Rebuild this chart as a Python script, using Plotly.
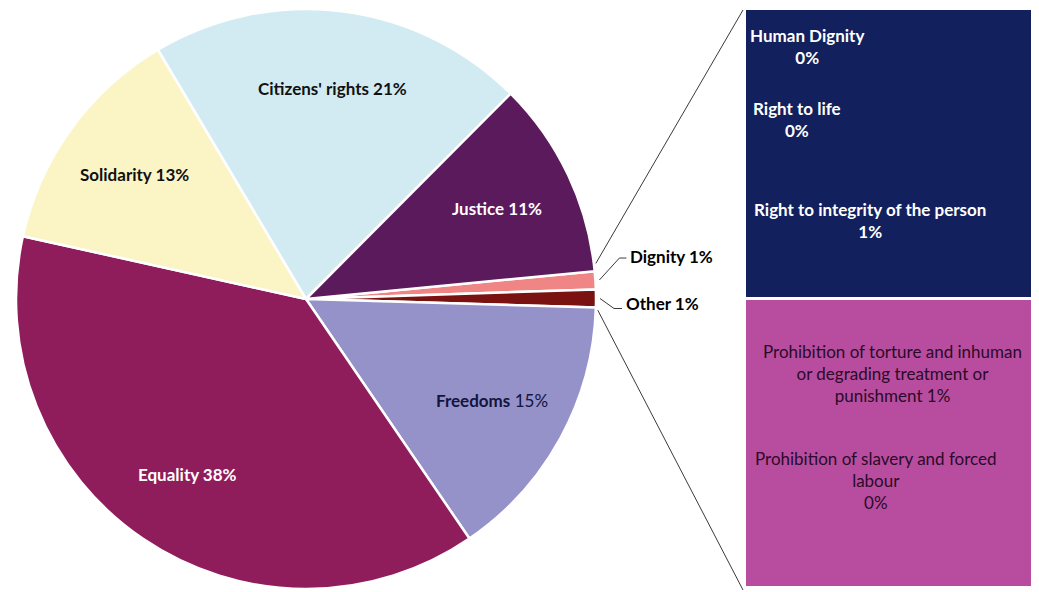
import math
import plotly.graph_objects as go

# ---- data ----
categories = ["Dignity", "Other", "Freedoms", "Equality", "Solidarity", "Citizens' rights", "Justice"]
values = [1, 1, 15, 38, 13, 21, 11]
slice_colors = ["#F08585", "#7A1212", "#9591C9", "#8F1C5B", "#FBF5C6", "#D2EBF3", "#5A1A5C"]
text_colors = ["#000000", "#000000", "#14143C", "#FFFFFF", "#111111", "#111111", "#FFFFFF"]

dignity_items = ["Prohibition of slavery and forced<br>labour",
                 "Prohibition of torture and inhuman<br>or degrading treatment or<br>punishment",
                 "Right to integrity of the person",
                 "Right to life",
                 "Human Dignity"]
dignity_values = [0, 1, 1, 0, 0]
dignity_colors = ["#B84D9F", "#B84D9F", "#13205E", "#13205E", "#13205E"]

# page body has an 8px margin: work in screen pixels and shift
OFF = 8
W, H = 1039 - OFF, 592 - OFF
FONT = "Lato"
FS = 17
cx_px, cy_px, R = 306, 299, 290
rotation = 84.5


def to_paper(px, py):
    return (px - OFF) / W, 1 - (py - OFF) / H


fig = go.Figure()
fig.add_trace(go.Pie(
    labels=categories, values=values, sort=False, direction="clockwise",
    rotation=rotation, textinfo="none",
    marker=dict(colors=slice_colors, line=dict(color="white", width=2.5)),
    domain=dict(x=[(cx_px - R - OFF) / W, (cx_px + R - OFF) / W],
                y=[max(0, 1 - (cy_px + R - OFF) / H), min(1, 1 - (cy_px - R - OFF) / H)]),
    showlegend=False, hoverinfo="label+value",
))

for name, v, col in zip(dignity_items, dignity_values, dignity_colors):
    fig.add_trace(go.Bar(x=["Dignity"], y=[v], name=name.replace("<br>", " "),
                         marker=dict(color=col, line=dict(color="white", width=3)),
                         xaxis="x2", yaxis="y2", showlegend=False, width=1))

box_x0, box_x1, box_y0, box_y1 = 745, 1035, 9, 588
bx0, by1 = to_paper(box_x0, box_y1)
bx1, by0 = to_paper(box_x1, box_y0)
fig.update_layout(
    width=W, height=H, margin=dict(l=0, r=0, t=0, b=0),
    paper_bgcolor="white", plot_bgcolor="white", barmode="stack", bargap=0,
    xaxis2=dict(domain=[bx0, min(bx1, 1)], range=[-0.5, 0.5], visible=False, anchor="y2"),
    yaxis2=dict(domain=[max(0, by1), min(1, by0)], range=[0, 2], visible=False, anchor="x2"),
    font=dict(family=FONT),
)

# geometry helpers
def pie_point(angle_deg, r):
    a = math.radians(angle_deg)
    return cx_px + r * math.sin(a), cy_px - r * math.cos(a)


total = sum(values)
cum = [0]
for v in values:
    cum.append(cum[-1] + v)
angles = [rotation + 360 * c / total for c in cum]

# slice labels
for i, (c, v) in enumerate(zip(categories, values)):
    if c in ("Dignity", "Other"):
        continue
    mid = (angles[i] + angles[i + 1]) / 2
    px, py = pie_point(mid, 0.73 * R)
    t = f"<b>{c}</b> {v}%" if c == "Freedoms" else f"<b>{c} {v}%</b>"
    x, y = to_paper(px, py)
    fig.add_annotation(text=t, x=x, y=y, xref="paper", yref="paper", showarrow=False,
                       xanchor="center", yanchor="middle",
                       font=dict(family=FONT, size=FS, color=text_colors[i]))

# text inside the breakdown boxes
box_texts = [
    ("<b>Human Dignity<br>0%</b>", 0.214, 1.87, "white"),
    ("<b>Right to life<br>0%</b>", 0.18, 1.62, "white"),
    ("<b>Right to integrity of the person<br>1%</b>", 0.43, 1.27, "white"),
    ("Prohibition of torture and inhuman<br>or degrading treatment or<br>punishment 1%", 0.51, 0.74, "#2A0A28"),
    ("Prohibition of slavery and forced<br>labour<br>0%", 0.45, 0.37, "#2A0A28"),
]
for t, xf, yv, col in box_texts:
    fig.add_annotation(text=t, x=xf, y=yv, xref="x2 domain", yref="y2", showarrow=False,
                       xanchor="center", yanchor="middle",
                       align="center", font=dict(family=FONT, size=FS, color=col))


def line(p0, p1, color="#3A3A3A", width=1):
    x0, y0 = to_paper(*p0)
    x1, y1 = to_paper(*p1)
    fig.add_shape(type="line", x0=x0, y0=y0, x1=x1, y1=y1, xref="paper", yref="paper",
                  line=dict(color=color, width=width))


# connectors to the breakdown box
line(pie_point(angles[0] - 1.5, R + 2), (box_x0 - 2, box_y0 + 1))
line(pie_point(angles[2] + 0.5, R + 2), (box_x0 - 2, box_y1 + 2))

# leader lines for small slices
dig_mid = (angles[0] + angles[1]) / 2
oth_mid = (angles[1] + angles[2]) / 2
p = pie_point(dig_mid, R + 4)
line(p, (p[0] + 20, p[1] - 22))
line((p[0] + 20, p[1] - 22), (p[0] + 27, p[1] - 22))
x, y = to_paper(p[0] + 29, p[1] - 24)
fig.add_annotation(text="<b>Dignity 1%</b>", x=x, y=y, xref="paper", yref="paper",
                   showarrow=False, xanchor="left", font=dict(family=FONT, size=FS, color="black"))
q = pie_point(oth_mid, R + 4)
line(q, (q[0] + 14, q[1] + 10))
line((q[0] + 14, q[1] + 10), (q[0] + 22, q[1] + 10))
x, y = to_paper(q[0] + 24, q[1] + 5)
fig.add_annotation(text="<b>Other 1%</b>", x=x, y=y, xref="paper", yref="paper",
                   showarrow=False, xanchor="left", font=dict(family=FONT, size=FS, color="black"))

fig.write_html("out.html")
